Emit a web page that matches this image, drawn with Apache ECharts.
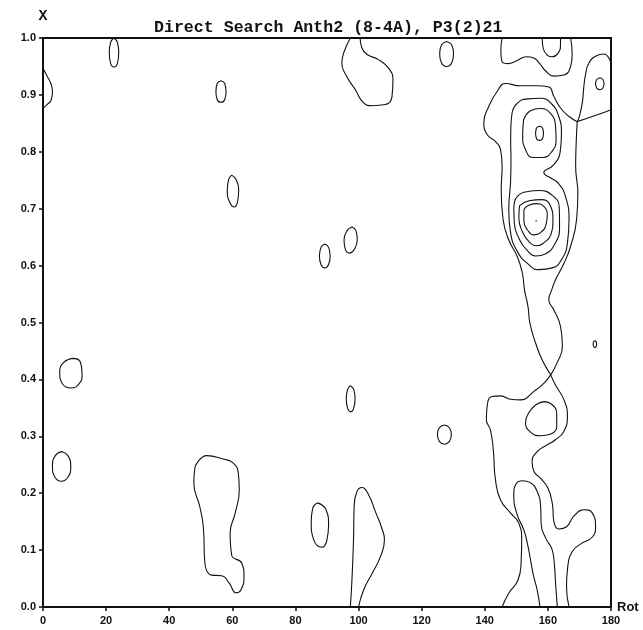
<!DOCTYPE html>
<html>
<head>
<meta charset="utf-8">
<script src="https://cdn.jsdelivr.net/npm/echarts@6/dist/echarts.min.js"></script>
<style>
  html, body { margin: 0; padding: 0; background: #fff; }
  #contourMap { width: 643px; height: 630px; }
</style>
</head>
<body>
<div id="contourMap"></div>
<script>
// axes
const rotMin = 0, rotMax = 180, rotStep = 20;
const xMin = 0, xMax = 1, xStep = 0.1;

// contour lines, as [rotation, x] pairs
// big ridge near rot 140-170: outer contour, split at its two saddle points
const ridgeOuterLeft = [[169.3,0.853],[166.7,0.862],[164.0,0.877],[161.9,0.897],[160.3,0.914],[156.6,0.916],[151.3,0.916],[146.6,0.920],[143.9,0.906],[141.3,0.880],[139.7,0.851],[140.8,0.830],[143.4,0.818],[145.0,0.804],[145.5,0.774],[145.2,0.733],[145.8,0.681],[147.6,0.645],[150.3,0.616],[151.9,0.587],[152.6,0.557],[153.7,0.528],[154.3,0.499],[156.1,0.464],[158.2,0.434],[160.9,0.408]];
const ridgeOuterRight = [[160.9,0.408],[162.9,0.429],[164.6,0.458],[164.0,0.493],[161.9,0.522],[160.3,0.540],[161.2,0.557],[162.4,0.575],[165.1,0.604],[167.2,0.634],[169.1,0.681],[169.5,0.727],[168.8,0.774],[169.0,0.821],[169.3,0.853]];
const ridgeLowerLeft = [[160.9,0.408],[158.7,0.393],[155.6,0.379],[151.3,0.364],[148.2,0.365],[145.0,0.371],[142.3,0.370],[140.8,0.355],[140.5,0.329],[141.8,0.311],[142.7,0.276],[143.4,0.223],[145.0,0.188],[148.2,0.165],[150.8,0.147],[151.7,0.118],[151.5,0.077],[150.5,0.047],[147.6,0.024],[145.5,0]];
const ridgeLowerRight = [[160.9,0.408],[162.4,0.390],[165.1,0.364],[166.2,0.335],[165.0,0.308],[162.4,0.294],[159.8,0.285],[156.6,0.273],[155.0,0.255],[155.6,0.238],[157.7,0.226],[160.0,0.209],[161.4,0.182],[161.9,0.150],[163.5,0.137],[165.9,0.141],[168.3,0.160],[171.4,0.171],[174.1,0.165],[175.1,0.141],[174.1,0.123],[170.4,0.111],[167.7,0.097],[166.3,0.071],[165.9,0.036],[166.7,0]];
const lowerArch = [[157.5,0],[156.6,0.030],[155.4,0.056],[154.5,0.083],[153.6,0.109],[152.4,0.135],[150.1,0.165],[149.2,0.197],[150.1,0.218],[151.9,0.222],[154.3,0.219],[156.6,0.203],[157.7,0.176],[157.9,0.144],[159.3,0.121],[161.4,0.100],[162.1,0.071],[162.5,0.036],[163.0,0]];
const lowerLoop = [[158.7,0.361],[161.5,0.355],[162.8,0.338],[162.8,0.317],[160.9,0.304],[157.7,0.301],[154.8,0.306],[152.9,0.324],[153.9,0.341],[156.1,0.355],[158.7,0.361]];

// both peaks inside one contour (with the notch), then rings
const twinPeakRing = [[148.7,0.870],[150.4,0.886],[153.6,0.893],[157.7,0.894],[161.2,0.884],[163.4,0.863],[164.3,0.833],[163.9,0.800],[161.8,0.777],[158.7,0.763],[160.9,0.754],[163.4,0.744],[165.6,0.721],[166.7,0.681],[166.2,0.640],[164.6,0.613],[161.4,0.596],[157.1,0.593],[153.5,0.604],[150.3,0.625],[148.2,0.657],[147.6,0.698],[148.2,0.751],[148.3,0.786],[148.2,0.821],[148.3,0.848],[148.7,0.870]];
const upperPeakRing = [[152.3,0.856],[154.5,0.872],[157.7,0.876],[160.9,0.867],[162.4,0.846],[162.6,0.821],[161.2,0.800],[158.3,0.790],[155.2,0.790],[152.9,0.804],[152.0,0.828],[152.3,0.856]];
const upperPeakCore = [[157.4,0.845],[158.3,0.842],[158.6,0.833],[158.3,0.823],[157.4,0.820],[156.4,0.823],[156.1,0.833],[156.4,0.842],[157.4,0.845]];
const lowerPeakRing3 = [[149.7,0.717],[152.4,0.729],[157.1,0.732],[161.5,0.723],[163.6,0.702],[163.7,0.666],[162.1,0.637],[159.3,0.621],[156.1,0.617],[153.2,0.628],[150.9,0.647],[149.4,0.673],[149.2,0.701],[149.7,0.717]];
const lowerPeakRing2 = [[151.0,0.705],[154.0,0.714],[158.2,0.716],[160.9,0.704],[161.6,0.681],[160.9,0.654],[158.7,0.640],[156.6,0.635],[154.0,0.642],[151.9,0.660],[150.8,0.683],[151.0,0.705]];
const lowerPeakCore = [[152.4,0.698],[153.6,0.705],[156.1,0.709],[158.7,0.704],[159.8,0.689],[159.4,0.672],[157.7,0.658],[155.6,0.654],[153.5,0.663],[152.4,0.678],[152.4,0.698]];
const lowerPeakTop = [[156.3,0.679]];

// top right corner
const topWave = [[145.5,1.0],[145.1,0.979],[145.5,0.958],[147.4,0.955],[150.1,0.960],[153.2,0.967],[155.5,0.965],[157.4,0.955],[159.3,0.942],[161.9,0.933],[165.1,0.935],[167.2,0.950],[167.7,0.971],[167.2,1.0]];
const topCup = [[158.2,1.0],[158.5,0.982],[159.8,0.970],[161.4,0.967],[163.2,0.973],[164.0,0.988],[164.0,1.0]];
const edgeArc = [[180,0.956],[177.8,0.972],[175.1,0.968],[173.0,0.956],[172.0,0.938],[171.4,0.915],[170.9,0.886],[169.8,0.859],[169.3,0.853]];
const edgeArm = [[169.3,0.853],[172.0,0.858],[175.7,0.865],[180,0.874]];
const edgeIsland = [[176.5,0.930],[177.4,0.927],[177.8,0.920],[177.4,0.912],[176.5,0.909],[175.5,0.912],[175.1,0.920],[175.5,0.927],[176.5,0.930]];
const dot175 = [[174.9,0.468],[175.3,0.466],[175.45,0.462],[175.3,0.458],[174.9,0.456],[174.5,0.458],[174.35,0.462],[174.5,0.466],[174.9,0.468]];

// middle of the map
const topBlob = [[97.4,1.0],[95.3,0.974],[94.7,0.956],[96.3,0.932],[99.0,0.909],[101.6,0.886],[104.3,0.881],[108.5,0.883],[110.6,0.897],[110.9,0.927],[109.5,0.947],[106.3,0.962],[102.7,0.971],[101.1,0.982],[100.5,1.0]];
const oval128top = [[127.9,0.994],[129.5,0.988],[130.1,0.972],[129.5,0.956],[127.9,0.950],[126.3,0.956],[125.7,0.972],[126.3,0.988],[127.9,0.994]];
const oval89 = [[89.3,0.638],[90.5,0.632],[91.0,0.617],[90.5,0.602],[89.3,0.596],[88.1,0.602],[87.6,0.617],[88.1,0.632],[89.3,0.638]];
const oval97high = [[97.9,0.668],[99.2,0.661],[99.6,0.645],[98.7,0.629],[97.1,0.622],[95.8,0.629],[95.4,0.645],[96.3,0.661],[97.9,0.668]];
const oval97low = [[97.4,0.389],[98.5,0.382],[98.9,0.366],[98.5,0.350],[97.6,0.343],[96.5,0.350],[96.1,0.366],[96.5,0.382],[97.4,0.389]];
const oval127 = [[127.2,0.320],[128.8,0.315],[129.4,0.303],[128.8,0.291],[127.2,0.286],[125.6,0.291],[125.0,0.303],[125.6,0.315],[127.2,0.320]];
const oval88 = [[87.0,0.183],[89.7,0.171],[90.5,0.144],[89.9,0.116],[88.4,0.105],[85.8,0.118],[85.0,0.149],[85.5,0.174],[87.0,0.183]];
const bottomArch = [[97.4,0],[97.9,0.047],[98.4,0.118],[98.6,0.176],[99.5,0.203],[101.1,0.210],[103.2,0.197],[105.3,0.168],[107.4,0.138],[108.2,0.118],[106.9,0.088],[104.3,0.059],[101.6,0.030],[100.0,0]];
const boot55 = [[48.2,0.247],[51.9,0.266],[57.1,0.260],[60.3,0.253],[61.9,0.235],[62.2,0.206],[60.9,0.165],[59.3,0.130],[59.8,0.091],[63.0,0.077],[63.7,0.053],[62.7,0.030],[61.2,0.025],[59.0,0.042],[56.6,0.055],[53.5,0.056],[51.3,0.077],[50.8,0.141],[49.7,0.176],[47.8,0.218],[48.2,0.247]];

// left part
const oval22 = [[22.5,1.0],[23.6,0.992],[24.0,0.974],[23.6,0.956],[22.5,0.949],[21.4,0.956],[21.0,0.974],[21.4,0.992],[22.5,1.0]];
const leftBump = [[0,0.947],[1.2,0.934],[2.4,0.921],[3.0,0.906],[2.6,0.891],[1.3,0.883],[0,0.877]];
const oval57 = [[56.4,0.925],[57.6,0.920],[58.0,0.906],[57.6,0.892],[56.4,0.887],[55.2,0.892],[54.8,0.906],[55.2,0.920],[56.4,0.925]];
const oval60 = [[59.8,0.759],[61.2,0.751],[62.0,0.731],[61.6,0.711],[60.6,0.703],[59.2,0.711],[58.4,0.731],[58.8,0.751],[59.8,0.759]];
const oval9 = [[9.5,0.437],[11.8,0.431],[12.4,0.409],[11.4,0.392],[8.9,0.385],[6.2,0.392],[5.3,0.413],[6.6,0.430],[9.5,0.437]];
const oval5 = [[6.1,0.273],[7.9,0.266],[8.8,0.247],[7.9,0.228],[5.8,0.221],[3.8,0.228],[3.0,0.247],[3.9,0.266],[6.1,0.273]];

const contours = [
  ridgeOuterLeft, ridgeOuterRight, ridgeLowerLeft, ridgeLowerRight, lowerArch, lowerLoop,
  twinPeakRing, upperPeakRing, upperPeakCore, lowerPeakRing3, lowerPeakRing2, lowerPeakCore,
  topWave, topCup, edgeArc, edgeArm, edgeIsland, dot175,
  topBlob, oval128top, oval89, oval97high, oval97low, oval127, oval88, bottomArch, boot55,
  oval22, leftBump, oval57, oval60, oval9, oval5
];

const ink = '#111';
const labelFont = { fontFamily: 'Liberation Sans', fontWeight: 'bold', fontSize: 11, color: ink };

let myChart = echarts.init(document.getElementById('contourMap'), null, { renderer: 'canvas' });
let option = {
  animation: false,
  backgroundColor: '#fff',
  title: {
    text: 'Direct Search Anth2 (8-4A), P3(2)21',
    left: 149,
    top: 14,
    textStyle: { fontFamily: 'Liberation Mono', fontWeight: 'bold', fontSize: 16.6, color: ink }
  },
  grid: {
    left: 43, right: 32, top: 38, bottom: 23,
    show: true, borderColor: ink, borderWidth: 2, backgroundColor: 'transparent'
  },
  xAxis: {
    type: 'value', min: rotMin, max: rotMax, interval: rotStep,
    name: 'Rot', nameLocation: 'end', nameGap: 6,
    nameTextStyle: { fontFamily: 'Liberation Sans', fontWeight: 'bold', fontSize: 13, color: ink, verticalAlign: 'middle', padding: [0, 0, 6, 0] },
    axisLine: { show: true, lineStyle: { color: ink, width: 2 } },
    axisTick: { show: true, length: 4, lineStyle: { color: ink, width: 1.5 } },
    axisLabel: Object.assign({ margin: 8 }, labelFont),
    splitLine: { show: false }
  },
  yAxis: {
    type: 'value', min: xMin, max: xMax, interval: xStep,
    name: 'X', nameLocation: 'end', nameGap: 14,
    nameTextStyle: { fontFamily: 'Liberation Mono', fontWeight: 'bold', fontSize: 15, color: ink, align: 'center' },
    axisLine: { show: true, lineStyle: { color: ink, width: 2 } },
    axisTick: { show: true, length: 4, lineStyle: { color: ink, width: 1.5 } },
    axisLabel: Object.assign({ margin: 7, formatter: v => v.toFixed(1) }, labelFont),
    splitLine: { show: false }
  },
  series: contours.map(pts => ({
    type: 'line',
    data: pts,
    smooth: 0.5,
    showSymbol: false,
    silent: true,
    clip: true,
    lineStyle: { color: ink, width: 1.1 }
  })).concat([{
    type: 'scatter',
    data: lowerPeakTop,
    symbolSize: 2,
    silent: true,
    itemStyle: { color: '#666' }
  }])
};

option && myChart.setOption(option);
</script>
</body>
</html>
